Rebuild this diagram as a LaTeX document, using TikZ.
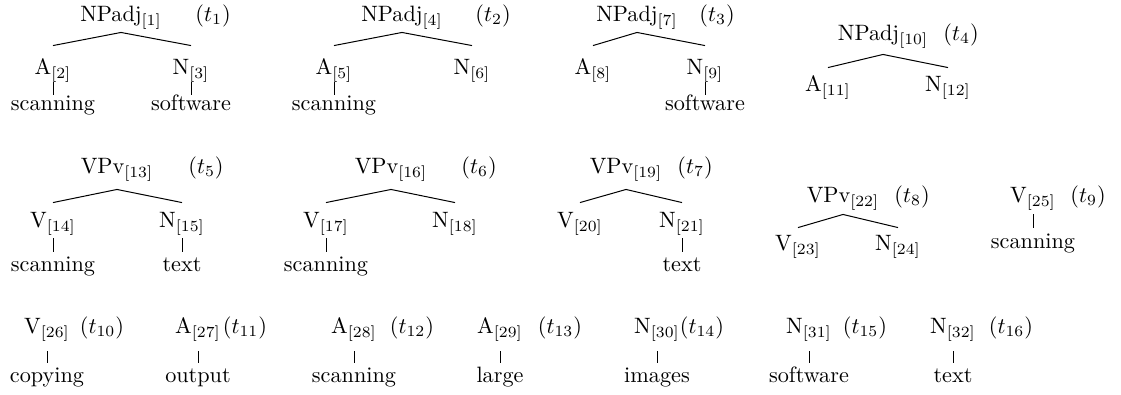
\documentclass[tikz,border=0pt]{standalone}
\begin{document}
\begin{tikzpicture}[x=0.45pt,y=-0.45pt,
  par/.style={anchor=base,inner sep=0pt,text depth=#1},
  kid/.style 2 args={anchor=base,inner sep=0pt,text height=#1,text depth=#2},
  wrd/.style={anchor=base,inner sep=0pt,text height=#1},
  tag/.style={anchor=base,inner sep=0pt},
  br/.style={line width=0.45pt}]
\useasboundingbox (0,0) rectangle (1121,394);

% ---- t1
\node[par=4.95pt] (p1) at (121,21) {NPadj$_{[1]}$};
\node[tag] (tg1) at (213,21) {$(t_1)$};
\node[kid={12.6pt}{3.6pt}] (a2) at (53,74) {A$_{[2]}$};
\node[kid={12.6pt}{3.6pt}] (n3) at (191,74) {N$_{[3]}$};
\node[wrd=6.75pt] (w2) at (53,110) {scanning};
\node[wrd=6.75pt] (w3) at (191,110) {software};
\draw[br] (a2.north) -- (p1.south) -- (n3.north);
\draw[br] (a2.south) -- (w2.north);
\draw[br] (n3.south) -- (w3.north);

% ---- t2
\node[par=4.95pt] (p4) at (402,21) {NPadj$_{[4]}$};
\node[tag] (tg2) at (493,21) {$(t_2)$};
\node[kid={12.6pt}{3.6pt}] (a5) at (334,74) {A$_{[5]}$};
\node[kid={12.6pt}{3.6pt}] (n6) at (472,74) {N$_{[6]}$};
\node[wrd=6.75pt] (w5) at (334,110) {scanning};
\draw[br] (a5.north) -- (p4.south) -- (n6.north);
\draw[br] (a5.south) -- (w5.north);

% ---- t3
\node[par=4.95pt] (p7) at (637,21) {NPadj$_{[7]}$};
\node[tag] (tg3) at (717,21) {$(t_3)$};
\node[kid={12.6pt}{3.6pt}] (a8) at (593,74) {A$_{[8]}$};
\node[kid={12.6pt}{3.6pt}] (n9) at (705,74) {N$_{[9]}$};
\node[wrd=6.75pt] (w9) at (705,110) {software};
\draw[br] (a8.north) -- (p7.south) -- (n9.north);
\draw[br] (n9.south) -- (w9.north);

% ---- t4
\node[par=6.3pt] (p10) at (883,40) {NPadj$_{[10]}$};
\node[tag] (tg4) at (961,40) {$(t_4)$};
\node[kid={10.35pt}{0pt}] (a11) at (828,91) {A$_{[11]}$};
\node[kid={10.35pt}{0pt}] (n12) at (948,91) {N$_{[12]}$};
\draw[br] (a11.north) -- (p10.south) -- (n12.north);

% ---- t5
\node[par=7.2pt] (p13) at (117,173) {VPv$_{[13]}$};
\node[tag] (tg5) at (206,173) {$(t_5)$};
\node[kid={10.8pt}{4.95pt}] (v14) at (53,227) {V$_{[14]}$};
\node[kid={10.8pt}{4.95pt}] (n15) at (182,227) {N$_{[15]}$};
\node[wrd=8.55pt] (w14) at (53,271) {scanning};
\node[wrd=8.55pt] (w15) at (182,271) {text};
\draw[br] (v14.north) -- (p13.south) -- (n15.north);
\draw[br] (v14.south) -- (w14.north);
\draw[br] (n15.south) -- (w15.north);

% ---- t6
\node[par=7.2pt] (p16) at (391,173) {VPv$_{[16]}$};
\node[tag] (tg6) at (479,173) {$(t_6)$};
\node[kid={10.8pt}{4.95pt}] (v17) at (326,227) {V$_{[17]}$};
\node[kid={10.8pt}{4.95pt}] (n18) at (455,227) {N$_{[18]}$};
\node[wrd=8.55pt] (w17) at (326,271) {scanning};
\draw[br] (v17.north) -- (p16.south) -- (n18.north);
\draw[br] (v17.south) -- (w17.north);

% ---- t7
\node[par=7.2pt] (p19) at (626,173) {VPv$_{[19]}$};
\node[tag] (tg7) at (695,173) {$(t_7)$};
\node[kid={10.8pt}{4.95pt}] (v20) at (580,227) {V$_{[20]}$};
\node[kid={10.8pt}{4.95pt}] (n21) at (682,227) {N$_{[21]}$};
\node[wrd=8.55pt] (w21) at (682,271) {text};
\draw[br] (v20.north) -- (p19.south) -- (n21.north);
\draw[br] (n21.south) -- (w21.north);

% ---- t8
\node[par=5.4pt] (p22) at (843,202) {VPv$_{[22]}$};
\node[tag] (tg8) at (912,202) {$(t_8)$};
\node[kid={9.9pt}{0pt}] (v23) at (798,250) {V$_{[23]}$};
\node[kid={9.9pt}{0pt}] (n24) at (898,250) {N$_{[24]}$};
\draw[br] (v23.north) -- (p22.south) -- (n24.north);

% ---- t9
\node[par=5.4pt] (v25) at (1033,202) {V$_{[25]}$};
\node[tag] (tg9) at (1088,202) {$(t_9)$};
\node[wrd=9pt] (w25) at (1033,248) {scanning};
\draw[br] (v25.south) -- (w25.north);

% ---- row 3
\node[par=8.1pt] (v26) at (47,333) {V$_{[26]}$};
\node[tag] (tg10) at (102,333) {$(t_{10})$};
\node[wrd=8.55pt] (w26) at (47,382) {copying};
\draw[br] (v26.south) -- (w26.north);

\node[par=8.1pt] (a27) at (198,333) {A$_{[27]}$};
\node[tag] (tg11) at (245,333) {$(t_{11})$};
\node[wrd=8.55pt] (w27) at (198,382) {output};
\draw[br] (a27.south) -- (w27.north);

\node[par=8.1pt] (a28) at (354,333) {A$_{[28]}$};
\node[tag] (tg12) at (412,333) {$(t_{12})$};
\node[wrd=8.55pt] (w28) at (354,382) {scanning};
\draw[br] (a28.south) -- (w28.north);

\node[par=8.1pt] (a29) at (500,333) {A$_{[29]}$};
\node[tag] (tg13) at (560,333) {$(t_{13})$};
\node[wrd=8.55pt] (w29) at (500,382) {large};
\draw[br] (a29.south) -- (w29.north);

\node[par=8.1pt] (n30) at (657,333) {N$_{[30]}$};
\node[tag] (tg14) at (702,333) {$(t_{14})$};
\node[wrd=8.55pt] (w30) at (657,382) {images};
\draw[br] (n30.south) -- (w30.north);

\node[par=8.1pt] (n31) at (809,333) {N$_{[31]}$};
\node[tag] (tg15) at (865,333) {$(t_{15})$};
\node[wrd=8.55pt] (w31) at (809,382) {software};
\draw[br] (n31.south) -- (w31.north);

\node[par=8.1pt] (n32) at (953,333) {N$_{[32]}$};
\node[tag] (tg16) at (1011,333) {$(t_{16})$};
\node[wrd=8.55pt] (w32) at (953,382) {text};
\draw[br] (n32.south) -- (w32.north);
\end{tikzpicture}
\end{document}
